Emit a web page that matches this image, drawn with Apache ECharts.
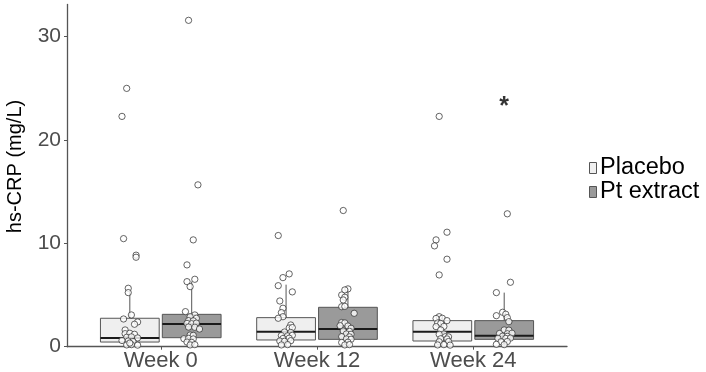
<!DOCTYPE html>
<html>
<head>
<meta charset="utf-8">
<script src="https://cdn.jsdelivr.net/npm/echarts@6/dist/echarts.min.js"></script>
<style>html,body{margin:0;padding:0;background:#fff}#c{width:706px;height:372px}</style>
</head>
<body>
<div id="c"></div>
<script>
// ---- data ----
const weeks = ['Week 0', 'Week 12', 'Week 24'];
const groups = ['Placebo', 'Pt extract'];
const yTicks = [0, 10, 20, 30];
// box stats per week: [lower whisker, Q1, median, Q3, upper whisker]
const placeboBox = [[0.05, 0.45, 0.85, 2.75, 5.4], [0.1, 0.65, 1.45, 2.81, 6.0], [0.1, 0.55, 1.45, 2.52, 3.0]];
const ptBox = [[0.1, 0.87, 2.2, 3.13, 6.3], [0.1, 0.71, 1.71, 3.81, 5.65], [0.1, 0.71, 1.06, 2.52, 5.23]];
// individual points per week: [horizontal jitter (category units), hs-CRP]
const placeboW0 = [[-0.02,24.98],[-0.05,22.27],[-0.04,10.45],[0.04,8.85],[0.04,8.65],[-0.01,5.65],[-0.01,5.23],[0.01,3.07],[-0.04,2.68],[0.05,2.39],[0.03,2.17],[-0.03,1.62],[-0.03,1.26],[0.0,1.3],[0.03,1.2],[-0.02,0.91],[0.01,0.95],[0.05,0.85],[-0.05,0.6],[-0.01,0.55],[0.02,0.5],[-0.02,0.17],[0.01,0.2],[0.05,0.15],[0.0,0.35]];
const placeboW12 = [[-0.05,10.75],[0.02,7.04],[-0.02,6.68],[-0.05,5.9],[0.04,5.3],[-0.04,4.42],[-0.02,3.72],[-0.03,3.3],[-0.02,2.9],[-0.05,2.75],[0.03,2.1],[0.02,1.81],[0.04,1.85],[-0.01,1.42],[0.03,1.38],[-0.03,1.08],[0.01,1.05],[0.04,1.1],[-0.02,0.79],[0.02,0.82],[-0.04,0.55],[-0.01,0.52],[0.03,0.58],[-0.03,0.17],[0.01,0.2]];
const placeboW24 = [[-0.02,22.27],[0.03,11.07],[-0.04,10.33],[-0.05,9.75],[0.03,8.46],[-0.02,6.94],[-0.02,2.9],[-0.04,2.73],[0.0,2.75],[0.03,2.52],[-0.03,2.29],[-0.01,2.25],[-0.04,1.94],[0.01,1.96],[-0.01,1.62],[0.01,1.23],[-0.02,1.2],[0.02,0.97],[0.04,0.95],[-0.01,0.77],[0.03,0.75],[-0.02,0.48],[0.04,0.5],[-0.03,0.17],[0.01,0.2],[0.05,0.15]];
const ptW0 = [[-0.02,31.56],[0.04,15.65],[0.01,10.33],[-0.03,7.91],[-0.03,6.29],[0.02,6.52],[-0.01,5.81],[-0.04,3.39],[0.02,3.07],[-0.01,2.9],[0.03,2.75],[-0.02,2.52],[0.01,2.5],[-0.03,2.25],[0.0,2.22],[0.03,2.28],[-0.02,1.9],[0.02,1.88],[0.05,1.71],[-0.01,1.13],[0.01,1.1],[-0.05,0.77],[-0.02,0.8],[0.01,0.75],[-0.03,0.45],[0.0,0.42],[-0.01,0.17],[0.02,0.2]];
const ptW12 = [[-0.03,13.17],[0.0,5.59],[-0.02,5.49],[-0.04,5.0],[-0.02,4.78],[-0.03,4.52],[-0.04,3.87],[-0.02,3.9],[0.04,3.23],[-0.04,2.34],[-0.02,2.3],[-0.05,2.03],[0.0,2.0],[0.02,1.78],[-0.03,1.52],[0.01,1.48],[-0.01,1.23],[0.02,1.2],[-0.04,0.97],[0.01,0.95],[-0.01,0.75],[0.02,0.72],[-0.04,0.41],[0.0,0.43],[-0.02,0.17],[0.01,0.2]];
const ptW24 = [[0.02,12.85],[0.04,6.23],[-0.05,5.23],[-0.05,3.0],[-0.01,3.33],[0.01,3.14],[0.02,2.81],[0.03,2.42],[0.0,1.62],[0.03,1.6],[-0.03,1.28],[0.02,1.25],[0.05,1.3],[-0.01,1.02],[0.02,1.0],[-0.04,0.81],[0.01,0.8],[0.04,0.83],[-0.02,0.48],[0.02,0.5],[-0.05,0.23],[0.0,0.2]];
// significance annotation
const sigWeek = 'Week 24', sigGroup = 'Pt extract', sigValue = 23.7, sigText = '*';

// ---- layout / style ----
const dodge = 0.198, halfW = 0.188;
const fills = ['#efefef', '#9a9a9a'];
const offsets = [-dodge, dodge];

function boxData(stats, gi) {
  return stats.map((s, wi) => [wi + 1 + offsets[gi]].concat(s));
}
function pointData(lists, gi) {
  const out = [];
  lists.forEach((lst, wi) => lst.forEach(p => out.push([wi + 1 + offsets[gi] + p[0], p[1]])));
  return out;
}
function renderBox(params, api) {
  const x = api.value(0), lo = api.value(1), q1 = api.value(2), med = api.value(3), q3 = api.value(4), hi = api.value(5);
  const tl = api.coord([x - halfW, q3]);
  const br = api.coord([x + halfW, q1]);
  const c = api.coord([x, 0])[0];
  const yLo = api.coord([x, lo])[1], yHi = api.coord([x, hi])[1], yMed = api.coord([x, med])[1];
  const fill = fills[params.seriesIndex];
  return {
    type: 'group',
    children: [
      { type: 'line', shape: { x1: c, y1: yHi, x2: c, y2: tl[1] }, style: { stroke: '#555', lineWidth: 1 } },
      { type: 'line', shape: { x1: c, y1: br[1], x2: c, y2: yLo }, style: { stroke: '#555', lineWidth: 1 } },
      { type: 'rect', shape: { x: tl[0], y: tl[1], width: br[0] - tl[0], height: br[1] - tl[1] }, style: { fill: fill, stroke: '#555', lineWidth: 1 } },
      { type: 'line', shape: { x1: tl[0], y1: yMed, x2: br[0], y2: yMed }, style: { stroke: '#1a1a1a', lineWidth: 2 } }
    ]
  };
}

const chart = echarts.init(document.getElementById('c'), null, { renderer: 'canvas' });
const font = 'Liberation Sans, Arial, sans-serif';
const pointStyle = { color: '#fff', borderColor: '#2a2a2a', borderWidth: 0.9 };
const sigX = weeks.indexOf(sigWeek) + 1 + offsets[groups.indexOf(sigGroup)];

chart.setOption({
  animation: false,
  textStyle: { fontFamily: font },
  grid: { left: 67, right: 139, top: 4.4, bottom: 25.3, containLabel: false },
  xAxis: {
    type: 'value', min: 0.4, max: 3.6,
    splitLine: { show: false },
    axisLine: { show: true, onZero: false, lineStyle: { color: '#555', width: 1.3 } },
    axisTick: { show: true, length: 3, customValues: [1, 2, 3], lineStyle: { color: '#555' } },
    axisLabel: { customValues: [1, 2, 3], formatter: v => weeks[Math.round(v) - 1], fontSize: 22, color: '#4d4d4d', margin: 3, fontFamily: font }
  },
  yAxis: {
    type: 'value', min: 0, max: 33.1,
    splitLine: { show: false },
    axisLine: { show: true, lineStyle: { color: '#555', width: 1.3 } },
    axisTick: { show: true, length: 3, customValues: yTicks, lineStyle: { color: '#555' } },
    axisLabel: { customValues: yTicks, fontSize: 21, color: '#4d4d4d', margin: 6, fontFamily: font }
  },
  legend: {
    orient: 'vertical', left: 589, top: 156, padding: 0, itemWidth: 7, itemHeight: 11, itemGap: 0,
    textStyle: { fontSize: 23.5, color: '#000', fontFamily: font, lineHeight: 21.6, padding: [0, 0, 0, -1.5] },
    data: groups.map((g, i) => ({ name: g, icon: 'rect', itemStyle: { color: fills[i], borderColor: '#555', borderWidth: 1 } }))
  },
  graphic: [{
    type: 'text', x: 15, y: 166.5, rotation: Math.PI / 2,
    style: { text: 'hs-CRP (mg/L)', font: '20px ' + font, fill: '#000', align: 'center', verticalAlign: 'middle' }
  }],
  series: [
    { name: groups[0], type: 'custom', renderItem: renderBox, data: boxData(placeboBox, 0), encode: { x: 0, y: [1, 2, 3, 4, 5] }, z: 2 },
    { name: groups[1], type: 'custom', renderItem: renderBox, data: boxData(ptBox, 1), encode: { x: 0, y: [1, 2, 3, 4, 5] }, z: 2 },
    { name: groups[0] + ' pts', type: 'scatter', data: pointData([placeboW0, placeboW12, placeboW24], 0), symbol: 'circle', symbolSize: 6.3, itemStyle: pointStyle, z: 5 },
    { name: groups[1] + ' pts', type: 'scatter', data: pointData([ptW0, ptW12, ptW24], 1), symbol: 'circle', symbolSize: 6.3, itemStyle: pointStyle, z: 5 },
    { name: 'sig', type: 'scatter', data: [[sigX, sigValue]], symbolSize: 0, z: 6,
      label: { show: true, position: 'inside', formatter: sigText, fontSize: 25, fontWeight: 'bold', color: '#000', offset: [0, 6], fontFamily: font } }
  ]
});
</script>
</body>
</html>
